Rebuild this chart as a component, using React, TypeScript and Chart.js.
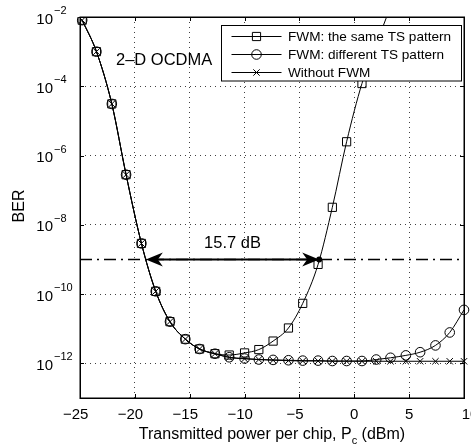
import React, { useEffect, useRef } from 'react';
import { Chart, registerables } from 'chart.js';

Chart.register(...registerables);

// ---------- data ----------
const powerDbm = [
  -24.8, -23.5, -22.1, -20.8, -19.4, -18.1, -16.8, -15.4, -14.1, -12.7,
  -11.4, -10.0, -8.7, -7.4, -6.0, -4.7, -3.3, -2.0, -0.7, 0.7,
  2.0, 3.3, 4.7, 6.0, 7.4, 8.7, 10.0,
];

// FWM: the same TS pattern (continues above the plot)
const berSameTs = [
  8.1e-3, 1.0e-3, 3.1e-5, 2.8e-7, 2.9e-9, 1.2e-10, 1.6e-11, 5.0e-12, 2.6e-12, 1.9e-12,
  1.74e-12, 2.0e-12, 2.5e-12, 4.4e-12, 1.05e-11, 5.4e-11, 7.2e-10, 3.2e-8, 2.5e-6, 1.2e-4,
  1.6e-3, 2.0e-2,
];

// FWM: different TS pattern
const berDiffTs = [
  8.1e-3, 1.0e-3, 3.1e-5, 2.8e-7, 2.9e-9, 1.2e-10, 1.6e-11, 5.0e-12, 2.6e-12, 1.9e-12,
  1.5e-12, 1.38e-12, 1.29e-12, 1.26e-12, 1.23e-12, 1.2e-12, 1.2e-12, 1.17e-12, 1.17e-12, 1.17e-12,
  1.29e-12, 1.45e-12, 1.7e-12, 2.1e-12, 3.3e-12, 7.8e-12, 3.5e-11,
];

// Without FWM
const berNoFwm = [
  8.1e-3, 1.0e-3, 3.1e-5, 2.8e-7, 2.9e-9, 1.2e-10, 1.6e-11, 5.0e-12, 2.6e-12, 1.9e-12,
  1.48e-12, 1.35e-12, 1.29e-12, 1.23e-12, 1.2e-12, 1.17e-12, 1.17e-12, 1.15e-12, 1.15e-12, 1.15e-12,
  1.15e-12, 1.15e-12, 1.15e-12, 1.15e-12, 1.15e-12, 1.15e-12, 1.15e-12,
];

const seriesLabels = ['FWM: the same TS pattern', 'FWM: different TS pattern', 'Without FWM'];
const seriesMarkers = ['rect', 'circle', 'crossRot'];
const xTickValues = [-25, -20, -15, -10, -5, 0, 5, 10];
const yTickExponents = [-12, -10, -8, -6, -4, -2];
const thresholdBer = 1e-9;
const arrowFromDbm = -19.0;
const arrowToDbm = -3.2;
const gapText = '15.7 dB';
const systemText = '2\u2013D OCDMA';
const yTitle = 'BER';
const xTitleMain = 'Transmitted power per chip, P';
const xTitleSub = 'c';
const xTitleTail = ' (dBm)';

// ---------- style ----------
const FONT = "'Liberation Sans', Arial, Helvetica, sans-serif";
const markerRadius: Record<string, number> = { rect: 5.8, circle: 4.8, crossRot: 4.5 };

function drawMarker(ctx: CanvasRenderingContext2D, style: string, x: number, y: number) {
  const r = markerRadius[style];
  ctx.beginPath();
  if (style === 'rect') {
    const s = r * Math.SQRT1_2;
    ctx.rect(x - s, y - s, 2 * s, 2 * s);
  } else if (style === 'circle') {
    ctx.arc(x, y, r, 0, Math.PI * 2);
  } else {
    const o = r * Math.SQRT1_2;
    ctx.moveTo(x - o, y - o); ctx.lineTo(x + o, y + o);
    ctx.moveTo(x - o, y + o); ctx.lineTo(x + o, y - o);
  }
  ctx.stroke();
}

const overlayPlugin = {
  id: 'overlay',
  afterDatasetsDraw(chart: any) {
    const { ctx, chartArea: a, scales } = chart;
    const xs = scales.x, ys = scales.y;
    const yy = ys.getPixelForValue(thresholdBer);
    const x0 = xs.getPixelForValue(arrowFromDbm);
    const x1 = xs.getPixelForValue(arrowToDbm);
    ctx.save();
    ctx.strokeStyle = '#000';
    ctx.fillStyle = '#000';
    ctx.lineWidth = 2;
    ctx.beginPath();
    ctx.moveTo(x0 + 8, yy);
    ctx.lineTo(x1 - 8, yy);
    ctx.stroke();
    const head = (tip: number, dir: number) => {
      ctx.beginPath();
      ctx.moveTo(tip, yy);
      ctx.lineTo(tip + dir * 17, yy - 7);
      ctx.lineTo(tip + dir * 12, yy);
      ctx.lineTo(tip + dir * 17, yy + 7);
      ctx.closePath();
      ctx.fill();
    };
    head(x0, 1);
    head(x1, -1);
    ctx.beginPath();
    ctx.arc(x1, yy, 3, 0, Math.PI * 2);
    ctx.fill();

    ctx.font = `16.5px ${FONT}`;
    ctx.textAlign = 'center';
    ctx.textBaseline = 'alphabetic';
    ctx.fillText(gapText, (x0 + x1) / 2 + 0, yy - 11);
    ctx.textAlign = 'left';
    ctx.fillText(systemText, a.left + 36, a.top + 48);
    ctx.restore();
  },
  afterDraw(chart: any) {
    const { ctx, chartArea: a, scales } = chart;
    const xs = scales.x, ys = scales.y;
    ctx.save();
    ctx.strokeStyle = '#000';
    ctx.fillStyle = '#000';

    // inward tick marks
    ctx.lineWidth = 1;
    ctx.beginPath();
    for (const v of xTickValues) {
      const px = Math.round(xs.getPixelForValue(v)) + 0.5;
      ctx.moveTo(px, a.bottom); ctx.lineTo(px, a.bottom - 4);
      ctx.moveTo(px, a.top); ctx.lineTo(px, a.top + 4);
    }
    for (const e of yTickExponents) {
      const py = Math.round(ys.getPixelForValue(Math.pow(10, e))) + 0.5;
      ctx.moveTo(a.left, py); ctx.lineTo(a.left + 4, py);
      ctx.moveTo(a.right, py); ctx.lineTo(a.right - 4, py);
    }
    ctx.stroke();

    // box
    ctx.lineWidth = 1.5;
    ctx.strokeRect(a.left + 0.25, a.top + 0.25, a.right - a.left, a.bottom - a.top);

    // x tick labels
    ctx.font = `15px ${FONT}`;
    ctx.textBaseline = 'alphabetic';
    for (const v of xTickValues) {
      const px = xs.getPixelForValue(v);
      const digits = String(Math.abs(v));
      ctx.textAlign = 'center';
      if (v < 0) {
        ctx.fillText(digits, px, a.bottom + 21);
        const dw = ctx.measureText(digits).width;
        ctx.textAlign = 'right';
        ctx.fillText('\u2212', px - dw / 2, a.bottom + 21);
      } else {
        ctx.fillText(digits, px + (v === 10 ? 6 : 0), a.bottom + 21);
      }
    }

    // y tick labels 10^e
    for (const e of yTickExponents) {
      const py = ys.getPixelForValue(Math.pow(10, e));
      ctx.font = `15px ${FONT}`;
      ctx.textAlign = 'right';
      ctx.fillText('10', a.left - 27, py + 6.5);
      ctx.font = `11px ${FONT}`;
      ctx.textAlign = 'left';
      ctx.fillText('\u2212' + Math.abs(e), a.left - 26, py - 3);
    }

    // axis titles
    ctx.font = `16px ${FONT}`;
    const w1 = ctx.measureText(xTitleMain).width;
    const w3 = ctx.measureText(xTitleTail).width;
    ctx.font = `11px ${FONT}`;
    const w2 = ctx.measureText(xTitleSub).width;
    let sx = (a.left + a.right) / 2 - (w1 + w2 + w3) / 2;
    const by = a.bottom + 40.5;
    ctx.textAlign = 'left';
    ctx.font = `16px ${FONT}`;
    ctx.fillText(xTitleMain, sx, by);
    ctx.font = `11px ${FONT}`;
    ctx.fillText(xTitleSub, sx + w1, by + 5);
    ctx.font = `16px ${FONT}`;
    ctx.fillText(xTitleTail, sx + w1 + w2, by);

    ctx.save();
    ctx.translate(19.5, (a.top + a.bottom) / 2 - 1.5);
    ctx.rotate(-Math.PI / 2);
    ctx.textAlign = 'center';
    ctx.textBaseline = 'middle';
    ctx.font = `16px ${FONT}`;
    ctx.fillText(yTitle, 0, 0);
    ctx.restore();

    // legend
    const lw = 240, lh = 55.5;
    const lx = a.right - 3 - lw + 0.5, ly = a.top + 8.5;
    ctx.fillStyle = '#fff';
    ctx.fillRect(lx, ly, lw, lh);
    ctx.lineWidth = 1;
    ctx.strokeStyle = '#000';
    ctx.strokeRect(lx, ly, lw, lh);
    ctx.fillStyle = '#000';
    ctx.font = `13.6px ${FONT}`;
    ctx.textAlign = 'left';
    ctx.textBaseline = 'middle';
    seriesLabels.forEach((label, i) => {
      const ry = Math.round(ly + 10.5 + i * 17.9) + 0.5;
      ctx.beginPath();
      ctx.moveTo(lx + 10, ry); ctx.lineTo(lx + 60, ry);
      ctx.stroke();
      drawMarker(ctx, seriesMarkers[i], lx + 35, ry);
      ctx.fillText(label, lx + 66.5, ry + 0.5);
    });
    ctx.restore();
  },
};

function makeSeries(label: string, ber: number[], marker: string) {
  return {
    label,
    data: ber.map((b, i) => ({ x: powerDbm[i], y: b })),
    borderColor: '#000',
    borderWidth: 1,
    pointStyle: marker,
    pointRadius: markerRadius[marker],
    pointBorderColor: '#000',
    pointBackgroundColor: 'rgba(0,0,0,0)',
    pointBorderWidth: 1,
    fill: false,
    cubicInterpolationMode: 'monotone',
    clip: { left: 8, top: 0, right: 8, bottom: 8 },
  };
}

export default function App() {
  const ref = useRef<HTMLCanvasElement>(null);
  useEffect(() => {
    const gridCommon = { color: 'rgba(0,0,0,0.75)', lineWidth: 1, drawTicks: false };
    const chart = new Chart(ref.current as HTMLCanvasElement, {
      type: 'line',
      data: {
        datasets: [
          makeSeries(seriesLabels[0], berSameTs, seriesMarkers[0]),
          makeSeries(seriesLabels[1], berDiffTs, seriesMarkers[1]),
          makeSeries(seriesLabels[2], berNoFwm, seriesMarkers[2]),
          {
            label: 'threshold',
            data: [{ x: -25, y: thresholdBer }, { x: 10, y: thresholdBer }],
            borderColor: '#000',
            borderWidth: 1.5,
            borderDash: [12, 5, 2, 5],
            pointRadius: 0,
            fill: false,
          },
        ] as any,
      },
      options: {
        responsive: false,
        animation: false,
        devicePixelRatio: 1,
        layout: { padding: { left: 80, right: 7, top: 17, bottom: 49 } },
        plugins: { legend: { display: false }, tooltip: { enabled: false } },
        scales: {
          x: {
            type: 'linear',
            min: -25,
            max: 10,
            ticks: { display: false, stepSize: 5 },
            grid: gridCommon,
            border: { display: false, dash: [1, 4] },
          },
          y: {
            type: 'logarithmic',
            min: 1e-13,
            max: 1e-2,
            ticks: { display: false },
            afterBuildTicks: (s: any) => {
              s.ticks = yTickExponents.map((e) => ({ value: Math.pow(10, e) }));
            },
            grid: gridCommon,
            border: { display: false, dash: [1, 4] },
          },
        },
      } as any,
      plugins: [overlayPlugin],
    });
    return () => chart.destroy();
  }, []);
  return (
    <div style={{ position: 'absolute', left: 0, top: 0, width: 471, height: 447, background: '#fff' }}>
      <canvas ref={ref} width={471} height={447} style={{ display: 'block', width: 471, height: 447 }} />
    </div>
  );
}
